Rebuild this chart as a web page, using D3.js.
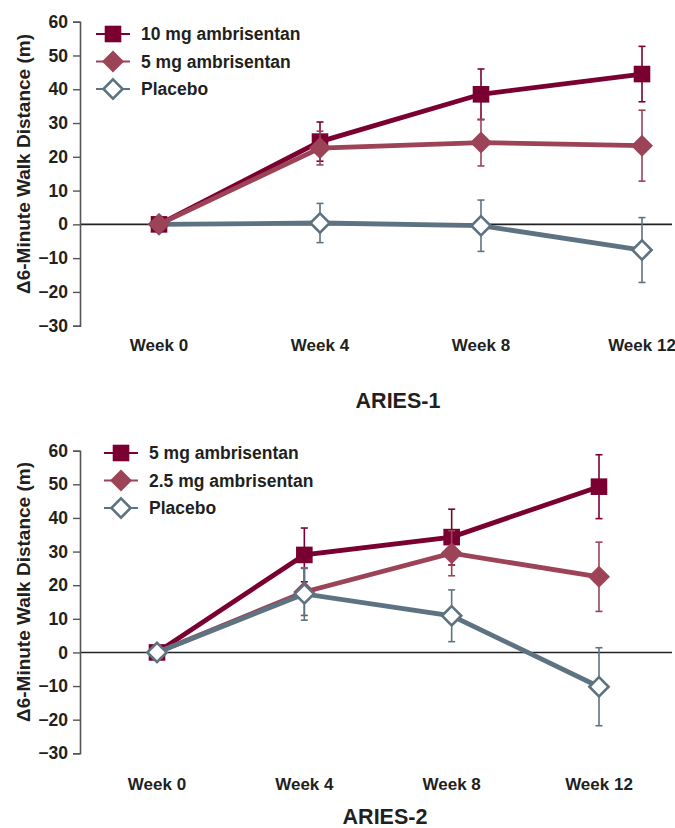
<!DOCTYPE html>
<html><head><meta charset="utf-8">
<script src="https://cdn.jsdelivr.net/npm/d3@7"></script>
<style>body{margin:0;background:#fff}svg{display:block}</style>
</head><body>
<script>
const weeks = ["Week 0","Week 4","Week 8","Week 12"];
const yTicks = [60,50,40,30,20,10,0,-10,-20,-30];

// ARIES-1
const a1Names = ["10 mg ambrisentan","5 mg ambrisentan","Placebo"];
const a1High = [0, 24.5, 38.5, 44.5];
const a1HighErr = [0, 5.8, 7.5, 8.2];
const a1Mid = [0, 22.6, 24.2, 23.3];
const a1MidErr = [0, 5.0, 6.9, 10.5];
const a1Plac = [0, 0.4, -0.4, -7.6];
const a1PlacErr = [0, 5.8, 7.6, 9.6];

// ARIES-2
const a2Names = ["5 mg ambrisentan","2.5 mg ambrisentan","Placebo"];
const a2High = [0, 29.0, 34.3, 49.3];
const a2HighErr = [0, 8.0, 8.3, 9.5];
const a2Mid = [0, 18.0, 29.5, 22.5];
const a2MidErr = [0, 7.0, 6.7, 10.3];
const a2Plac = [0, 17.4, 10.9, -10.2];
const a2PlacErr = [0, 7.8, 7.7, 11.6];

const colors = ["#7a0032", "#9c4358", "#5e7382"];
const shapes = ["square","diamond","hollow"];

const W = 675, H = 828;
const svg = d3.select("body").append("svg").attr("width", W).attr("height", H);
const font = "'Liberation Sans', Arial, Helvetica, sans-serif";
const txt = "#231f20";

function marker(g, shape, color, x, y) {
  if (shape === "square") {
    const s = 8.3;
    g.append("rect").attr("x", x - s).attr("y", y - s).attr("width", 2*s).attr("height", 2*s).attr("fill", color);
  } else if (shape === "diamond") {
    const d = 11;
    g.append("path").attr("d", `M${x},${y-d}L${x+d},${y}L${x},${y+d}L${x-d},${y}Z`).attr("fill", color);
  } else {
    const d = 9.6;
    g.append("path").attr("d", `M${x},${y-d}L${x+d},${y}L${x},${y+d}L${x-d},${y}Z`)
      .attr("fill", "#fff").attr("stroke", color).attr("stroke-width", 2.6);
  }
}

function panel(cfg) {
  const g = svg.append("g");
  const y = d3.scaleLinear().domain([-30, 60]).range([cfg.yBottom, cfg.yTop]);
  const x = d3.scalePoint().domain(weeks).range([cfg.x0, cfg.x3]);

  // zero line
  g.append("line").attr("x1", cfg.axisX).attr("x2", 672).attr("y1", y(0)).attr("y2", y(0))
    .attr("stroke", "#222").attr("stroke-width", 1.6);

  // y axis
  const ax = g.append("g").attr("transform", `translate(${cfg.axisX},0)`)
    .call(d3.axisLeft(y).tickValues(yTicks).tickSize(7).tickPadding(5).tickFormat(d3.format("d")));
  ax.select(".domain").attr("stroke", "#555").attr("stroke-width", 1.6);
  ax.selectAll(".tick line").attr("stroke", "#555").attr("stroke-width", 1.4);
  ax.selectAll(".tick text").attr("font-family", font).attr("font-weight", "bold")
    .attr("font-size", 17.5).attr("fill", txt);

  // x labels
  g.selectAll(".xl").data(weeks).enter().append("text")
    .attr("x", d => x(d)).attr("y", cfg.xLabelY).attr("text-anchor", "middle")
    .attr("font-family", font).attr("font-weight", "bold").attr("font-size", 17)
    .attr("fill", txt).text(d => d);

  // y label
  g.append("text").attr("transform", `translate(30,${cfg.yLabelC}) rotate(-90)`)
    .attr("text-anchor", "middle").attr("font-family", font).attr("font-weight", "bold")
    .attr("font-size", 19).attr("fill", txt).text("Δ6-Minute Walk Distance (m)");

  // title
  g.append("text").attr("x", cfg.titleX).attr("y", cfg.titleY).attr("text-anchor", "middle")
    .attr("font-family", font).attr("font-weight", "bold").attr("font-size", 21.5)
    .attr("fill", txt).text(cfg.title);

  const line = d3.line().x((d, i) => x(weeks[i])).y(d => y(d));
  cfg.order.forEach(si => {
    const s = cfg.series[si];
    const col = colors[si];
    const sg = g.append("g");
    // error bars
    s.vals.forEach((v, i) => {
      const e = s.errs[i];
      if (!e) return;
      const cx = x(weeks[i]);
      sg.append("line").attr("x1", cx).attr("x2", cx).attr("y1", y(v + e)).attr("y2", y(v - e))
        .attr("stroke", col).attr("stroke-width", 1.6);
      [v + e, v - e].forEach(t => sg.append("line").attr("x1", cx - 3.5).attr("x2", cx + 3.5)
        .attr("y1", y(t)).attr("y2", y(t)).attr("stroke", col).attr("stroke-width", 1.6));
    });
    sg.append("path").datum(s.vals).attr("d", line).attr("fill", "none")
      .attr("stroke", col).attr("stroke-width", 4.8);
    s.vals.forEach((v, i) => marker(sg, shapes[si], col, x(weeks[i]), y(v)));
  });

  // legend
  cfg.names.forEach((n, i) => {
    const ly = cfg.legY + i * 27.5;
    g.append("line").attr("x1", cfg.legX - 17).attr("x2", cfg.legX + 17).attr("y1", ly).attr("y2", ly)
      .attr("stroke", colors[i]).attr("stroke-width", 1.8);
    marker(g, shapes[i], colors[i], cfg.legX, ly);
    g.append("text").attr("x", cfg.legX + 28).attr("y", ly + 6)
      .attr("font-family", font).attr("font-weight", "bold").attr("font-size", 17.5)
      .attr("fill", txt).text(n);
  });
}

panel({
  yTop: 21.7, yBottom: 325.7, axisX: 80, x0: 159, x3: 642, xLabelY: 351,
  yLabelC: 164, titleX: 398, titleY: 408, title: "ARIES-1",
  legX: 113, legY: 34, names: a1Names, order: [2, 0, 1],
  series: [{vals: a1High, errs: a1HighErr}, {vals: a1Mid, errs: a1MidErr}, {vals: a1Plac, errs: a1PlacErr}]
});
panel({
  yTop: 450.7, yBottom: 753.3, axisX: 80, x0: 157, x3: 599, xLabelY: 790,
  yLabelC: 592, titleX: 385, titleY: 824, title: "ARIES-2",
  legX: 121, legY: 453, names: a2Names, order: [0, 1, 2],
  series: [{vals: a2High, errs: a2HighErr}, {vals: a2Mid, errs: a2MidErr}, {vals: a2Plac, errs: a2PlacErr}]
});
</script>
</body></html>
